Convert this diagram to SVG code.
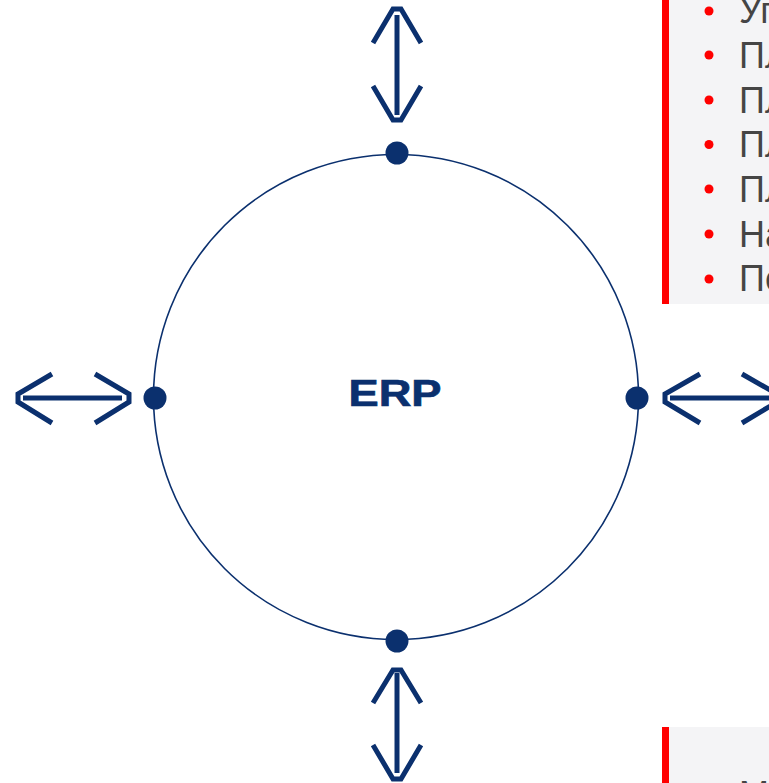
<svg xmlns="http://www.w3.org/2000/svg" width="769" height="783" viewBox="0 0 769 783">
  <style>
    .arr { fill: none; stroke: #0b306e; stroke-width: 5; stroke-linejoin: miter; }
    .dot { fill: #0b306e; }
    .bar { fill: #ff0000; }
    .panel { fill: #f4f4f6; }
    .bul { fill: #ff0000; }
    .txt { font-family: "Liberation Sans", Arial, sans-serif; font-size: 36px; fill: #454545; }
  </style>
  <rect width="769" height="783" fill="#ffffff"/>

  <g id="panel-top">
    <rect class="panel" x="669" y="0" width="100" height="304"/>
    <rect class="bar" x="662" y="0" width="7" height="304"/>
    <circle class="bul" cx="709" cy="11" r="4.5"/>
    <circle class="bul" cx="709" cy="55" r="4.5"/>
    <circle class="bul" cx="709" cy="100" r="4.5"/>
    <circle class="bul" cx="709" cy="144.5" r="4.5"/>
    <circle class="bul" cx="709" cy="189" r="4.5"/>
    <circle class="bul" cx="709" cy="234" r="4.5"/>
    <circle class="bul" cx="709" cy="279" r="4.5"/>
    <text class="txt" x="739" y="23">Уп</text>
    <text class="txt" x="739" y="68">Пл</text>
    <text class="txt" x="739" y="112.5">Пл</text>
    <text class="txt" x="739" y="157">Пл</text>
    <text class="txt" x="739" y="202">Пл</text>
    <text class="txt" x="739" y="246.5">На</text>
    <text class="txt" x="739" y="291">По</text>
  </g>

  <g id="panel-bottom">
    <rect class="panel" x="669" y="727" width="100" height="56"/>
    <rect class="bar" x="662" y="727" width="7" height="56"/>
    <text class="txt" x="739" y="807">М</text>
  </g>

  <g id="erp">
    <circle cx="396" cy="397" r="242.5" fill="none" stroke="#0b306e" stroke-width="1.6"/>
    <text x="395" y="406" text-anchor="middle" textLength="93" lengthAdjust="spacingAndGlyphs" font-family="'Liberation Sans', Arial, sans-serif" font-weight="bold" font-size="37.5" fill="#0b306e" stroke="#0b306e" stroke-width="0.7">ERP</text>
  </g>

  <g id="ports">
    <circle class="dot" cx="397" cy="153" r="11.5"/>
    <circle class="dot" cx="397" cy="641" r="11.5"/>
    <circle class="dot" cx="155" cy="398" r="11.5"/>
    <circle class="dot" cx="637" cy="398" r="11.5"/>
  </g>

  <g id="connectors">
    <g id="arrow-top">
      <line class="arr" x1="397" y1="15" x2="397" y2="115"/>
      <polyline class="arr" points="373,43 393,9 401,9 421,43"/>
      <polyline class="arr" points="373,86 393,120 401,120 421,86"/>
    </g>
    <g id="arrow-bottom">
      <line class="arr" x1="397" y1="673" x2="397" y2="773"/>
      <polyline class="arr" points="373,703 393,670 401,670 421,703"/>
      <polyline class="arr" points="373,745 393,779 401,779 421,745"/>
    </g>
    <g id="arrow-left">
      <line class="arr" x1="23" y1="398" x2="122" y2="398"/>
      <polyline class="arr" points="52,374 18,394 18,402 52,423"/>
      <polyline class="arr" points="95,374 129,394 129,402 95,423"/>
    </g>
    <g id="arrow-right">
      <line class="arr" x1="670" y1="398" x2="775" y2="398"/>
      <polyline class="arr" points="700,374 665,394 665,402 700,423"/>
      <polyline class="arr" points="742,374 777,394 777,402 742,423"/>
    </g>
  </g>
</svg>
